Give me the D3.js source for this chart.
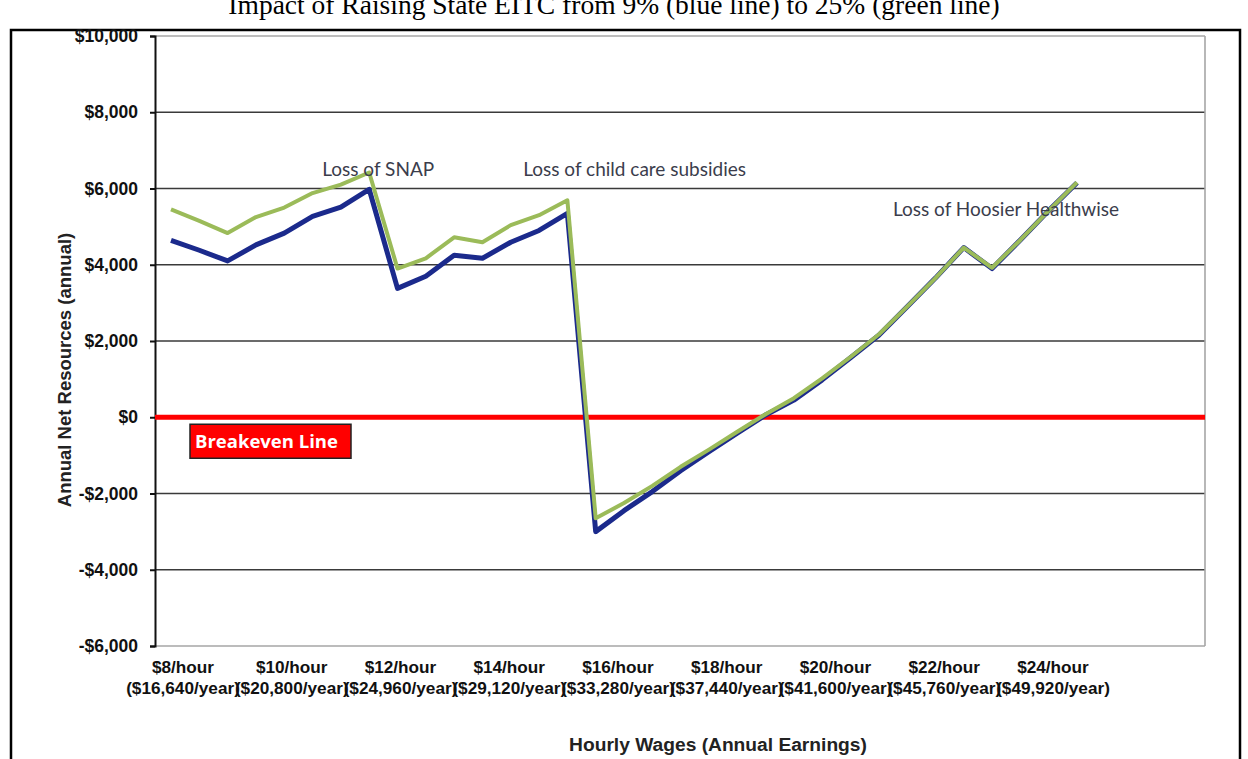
<!DOCTYPE html>
<html>
<head>
<meta charset="utf-8">
<script src="https://cdn.jsdelivr.net/npm/d3@7"></script>
<style>
  body { margin: 0; background: #fff; }
  svg { display: block; }
</style>
</head>
<body>
<svg id="chart"></svg>
<script>
// hourly wage of each point on the lines
var wages = [8, 8.5, 9, 9.5, 10, 10.5, 11, 11.5, 12, 12.5, 13, 13.5, 14, 14.5, 15, 15.5,
             16, 16.5, 17, 17.5, 18, 18.5, 19, 19.5, 20, 20.5, 21, 21.5, 22, 22.5, 23, 23.5, 24];

// state EITC 9% (blue line)
var blueValues = [4640, 4380, 4100, 4520, 4830, 5270, 5510, 5980, 3380, 3700, 4250, 4170, 4590, 4900, 5350,
                  -3000, -2450, -1950, -1400, -900, -420, 60, 450, 980, 1560, 2150, 2900, 3650, 4450, 3900, 4650, 5420, 6150];

// state EITC 25% (green line)
var greenValues = [5450, 5150, 4830, 5250, 5500, 5880, 6100, 6420, 3900, 4170, 4720, 4590, 5040, 5300, 5690,
                   -2650, -2250, -1800, -1300, -850, -380, 80, 500, 1020, 1580, 2170, 2900, 3650, 4450, 3920, 4650, 5420, 6160];

var yTicks = [-6000, -4000, -2000, 0, 2000, 4000, 6000, 8000, 10000];

var labelWages = [8, 10, 12, 14, 16, 18, 20, 22, 24];
var labelHours = ["$8/hour", "$10/hour", "$12/hour", "$14/hour", "$16/hour", "$18/hour", "$20/hour", "$22/hour", "$24/hour"];
var labelYears = ["($16,640/year)", "($20,800/year)", "($24,960/year)", "($29,120/year)", "($33,280/year)",
                  "($37,440/year)", "($41,600/year)", "($45,760/year)", "($49,920/year)"];

var notes = [
    {text: "Loss of SNAP", wage: 10.67, value: 6330},
    {text: "Loss of child care subsidies", wage: 14.22, value: 6330},
    {text: "Loss of Hoosier Healthwise", wage: 20.75, value: 5280}
];

var W = 1248, H = 759;
var plotLeft = 155, plotRight = 1205, plotTop = 36, plotBottom = 646;

var svg = d3.select("#chart").attr("width", W).attr("height", H);

// page frame
svg.append("path")
    .attr("d", "M11,780 L11,30 L1240,30 L1240,780")
    .attr("fill", "none")
    .attr("stroke", "#000")
    .attr("stroke-width", 2.5);

svg.append("text")
    .attr("x", 614).attr("y", 14)
    .attr("text-anchor", "middle")
    .attr("font-family", "Liberation Serif, Times New Roman, serif")
    .attr("font-size", 27.5)
    .text("Impact of Raising State EITC from 9% (blue line) to 25% (green line)");

var y = d3.scaleLinear().domain([-6000, 10000]).range([plotBottom, plotTop]);
var x = d3.scaleLinear().domain([8, 24]).range([plotLeft + 16, plotLeft + 922]);
var xLabel = d3.scaleLinear().domain([8, 24]).range([plotLeft + 28, plotLeft + 898]);

// gridlines
svg.append("g").selectAll("line")
    .data(yTicks)
    .enter().append("line")
    .attr("x1", plotLeft).attr("x2", plotRight)
    .attr("y1", function(d){ return y(d); })
    .attr("y2", function(d){ return y(d); })
    .attr("stroke", function(d){ return (d == 10000 || d == -6000) ? "#a6a6a6" : "#3a3a3a"; })
    .attr("stroke-width", 1.6);

// right border of plot area
svg.append("line")
    .attr("x1", plotRight).attr("x2", plotRight)
    .attr("y1", plotTop).attr("y2", plotBottom)
    .attr("stroke", "#a6a6a6").attr("stroke-width", 1.6);

// y axis
var fmt = function(d){ return (d < 0 ? "-$" : "$") + d3.format(",")(Math.abs(d)); };
var yAxis = svg.append("g")
    .attr("transform", "translate(" + plotLeft + ",0)")
    .call(d3.axisLeft(y).tickValues(yTicks).tickFormat(fmt).tickSize(5).tickPadding(12));
yAxis.select(".domain").attr("stroke", "#111").attr("stroke-width", 2);
yAxis.selectAll(".tick line").attr("stroke", "#111").attr("stroke-width", 2);
yAxis.selectAll("text")
    .attr("font-family", "Liberation Sans, Arial, sans-serif")
    .attr("font-weight", "bold")
    .attr("font-size", 17.5)
    .attr("fill", "#111");

svg.append("text")
    .attr("transform", "translate(71,370) rotate(-90)")
    .attr("text-anchor", "middle")
    .attr("font-family", "Liberation Sans, Arial, sans-serif")
    .attr("font-weight", "bold")
    .attr("font-size", 18.5)
    .attr("fill", "#222")
    .text("Annual Net Resources (annual)");

// x labels (two lines each)
var xl = svg.append("g").selectAll("text")
    .data(labelWages)
    .enter().append("text")
    .attr("text-anchor", "middle")
    .attr("font-family", "Liberation Sans, Arial, sans-serif")
    .attr("font-weight", "bold")
    .attr("font-size", 17.2)
    .attr("fill", "#111");
xl.append("tspan")
    .attr("x", function(d){ return xLabel(d); })
    .attr("y", 673)
    .text(function(d,i){ return labelHours[i]; });
xl.append("tspan")
    .attr("x", function(d){ return xLabel(d); })
    .attr("y", 694)
    .text(function(d,i){ return labelYears[i]; });

svg.append("text")
    .attr("x", 718).attr("y", 751)
    .attr("text-anchor", "middle")
    .attr("font-family", "Liberation Sans, Arial, sans-serif")
    .attr("font-weight", "bold")
    .attr("font-size", 19.2)
    .attr("fill", "#222")
    .text("Hourly Wages (Annual Earnings)");

// breakeven line
svg.append("line")
    .attr("x1", plotLeft).attr("x2", plotRight)
    .attr("y1", y(0)).attr("y2", y(0))
    .attr("stroke", "#ff0000").attr("stroke-width", 5);

svg.append("rect")
    .attr("x", 190).attr("y", y(0) + 7)
    .attr("width", 161).attr("height", 34)
    .attr("fill", "#ff0000")
    .attr("stroke", "#222").attr("stroke-width", 1.5);
svg.append("text")
    .attr("x", 195).attr("y", y(0) + 31)
    .attr("font-family", "Open Sans, sans-serif")
    .attr("font-weight", "bold")
    .attr("font-size", 18.5)
    .attr("fill", "#fff")
    .text("Breakeven Line");

// series lines
var line = d3.line()
    .x(function(d,i){ return x(wages[i]); })
    .y(function(d){ return y(d); });

svg.append("path")
    .datum(blueValues)
    .attr("d", line)
    .attr("fill", "none")
    .attr("stroke", "#1b2a8c")
    .attr("stroke-width", 5)
    .attr("stroke-linejoin", "round");

svg.append("path")
    .datum(greenValues)
    .attr("d", line)
    .attr("fill", "none")
    .attr("stroke", "#9bbb59")
    .attr("stroke-width", 4)
    .attr("stroke-linejoin", "round");

// annotations
svg.append("g").selectAll("text")
    .data(notes)
    .enter().append("text")
    .attr("x", function(d){ return x(d.wage); })
    .attr("y", function(d){ return y(d.value); })
    .attr("font-family", "Lato, sans-serif")
    .attr("font-size", 19)
    .attr("fill", "#3b3d4c")
    .text(function(d){ return d.text; });
</script>
</body>
</html>
